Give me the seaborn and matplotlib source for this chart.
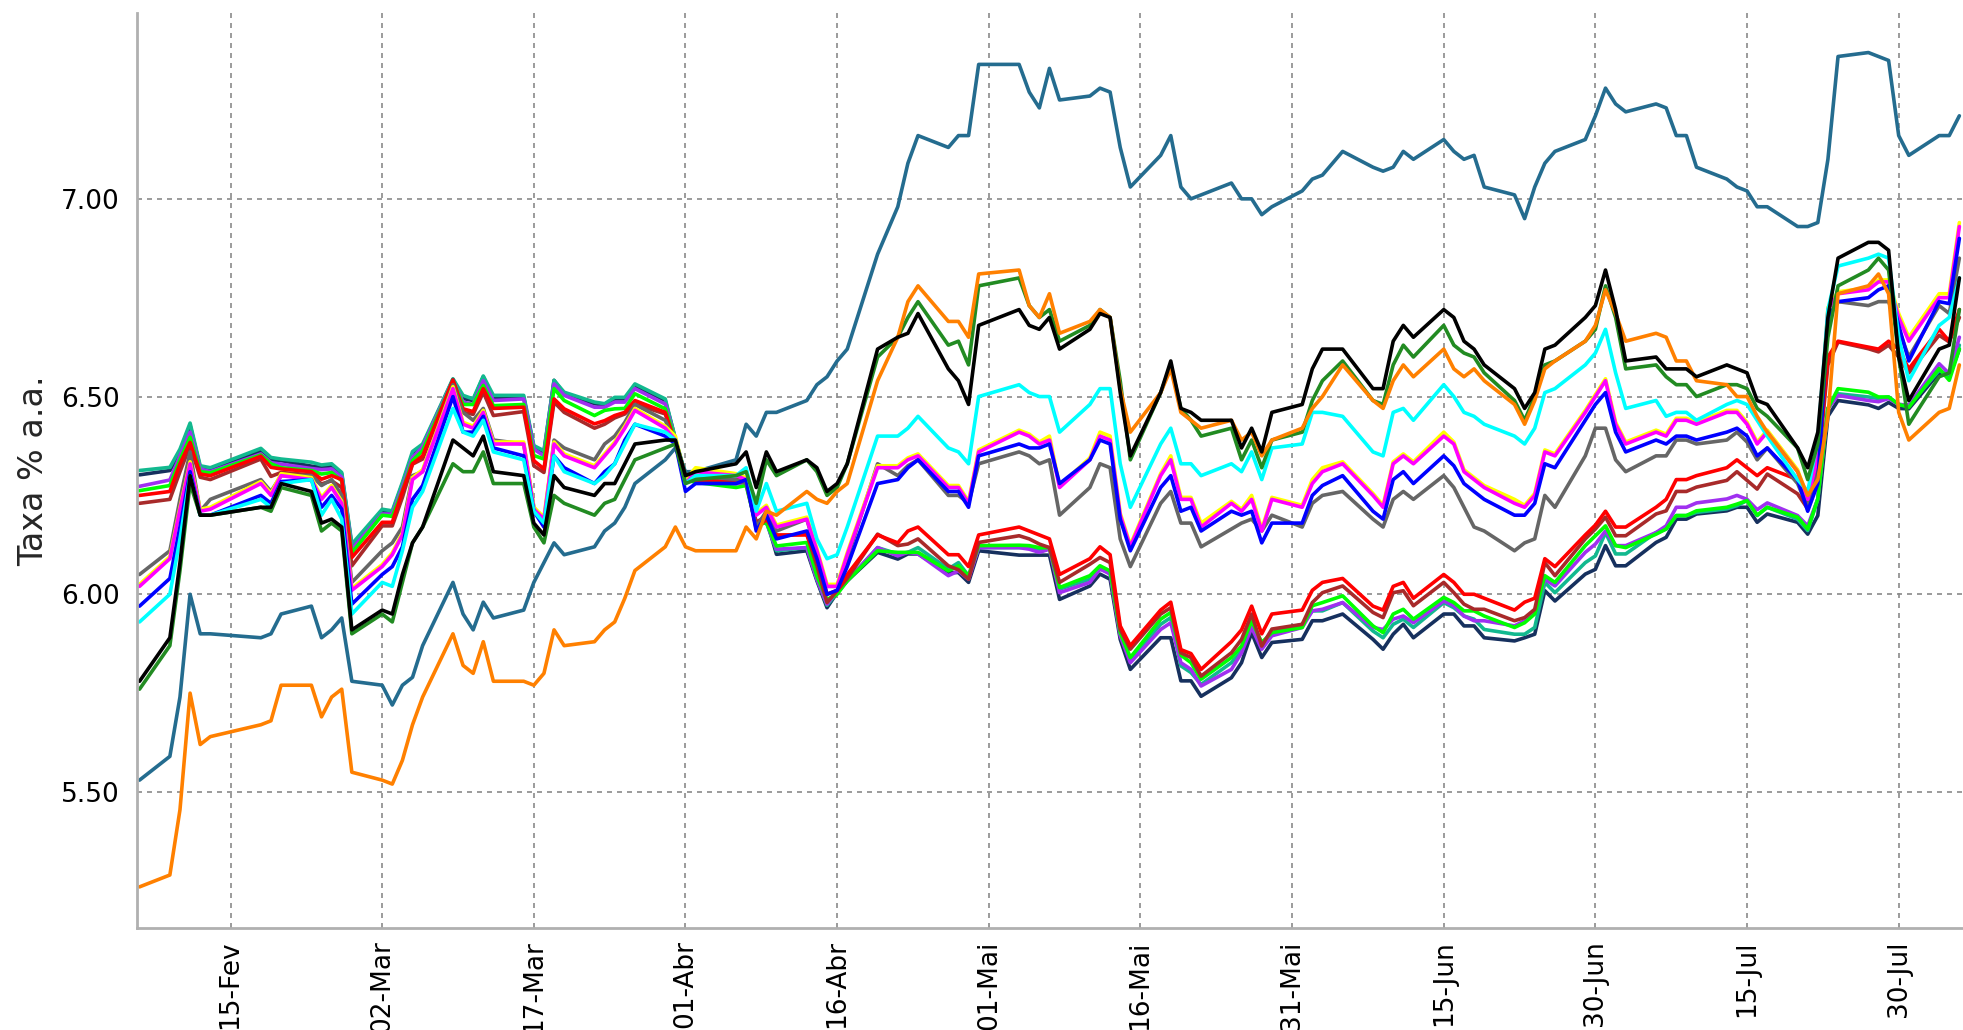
import numpy as np
import pandas as pd
import matplotlib
matplotlib.use("Agg")
import matplotlib.pyplot as plt
import seaborn as sns

# dias úteis de 06/02 a 05/08 (sem carnaval, sexta santa, tiradentes, 1º de maio, corpus christi)
feriados = ["2026-02-16", "2026-02-17", "2026-04-03", "2026-04-21", "2026-05-01", "2026-06-04"]
datas = pd.bdate_range("2026-02-06", "2026-08-05", freq="C", holidays=feriados)

# taxas, um bloco por mês (fev, mar, abr, mai, jun, jul, ago)
azul_aco = [
    5.53, 5.59, 5.74, 6.00, 5.90, 5.90, 5.89, 5.90, 5.95, 5.97, 5.89, 5.91, 5.94, 5.78,
    5.77, 5.72, 5.77, 5.79, 5.87, 6.03, 5.95, 5.91, 5.98, 5.94, 5.96, 6.03, 6.08, 6.13, 6.10, 6.12, 6.16, 6.18, 6.22, 6.28, 6.34, 6.37,
    6.31, 6.31, 6.34, 6.43, 6.40, 6.46, 6.46, 6.49, 6.53, 6.55, 6.59, 6.62, 6.86, 6.98, 7.09, 7.16, 7.13, 7.16, 7.16, 7.34,
    7.34, 7.27, 7.23, 7.33, 7.25, 7.26, 7.28, 7.27, 7.13, 7.03, 7.11, 7.16, 7.03, 7.00, 7.01, 7.04, 7.00, 7.00, 6.96, 6.98,
    7.02, 7.05, 7.06, 7.12, 7.08, 7.07, 7.08, 7.12, 7.10, 7.15, 7.12, 7.10, 7.11, 7.03, 7.01, 6.95, 7.03, 7.09, 7.12, 7.15, 7.21,
    7.28, 7.24, 7.22, 7.24, 7.23, 7.16, 7.16, 7.08, 7.05, 7.03, 7.02, 6.98, 6.98, 6.93, 6.93, 6.94, 7.10, 7.36, 7.37, 7.36, 7.35, 7.16, 7.11,
    7.16, 7.16, 7.21,
]
laranja = [
    5.26, 5.29, 5.455, 5.75, 5.62, 5.64, 5.67, 5.68, 5.77, 5.77, 5.69, 5.74, 5.76, 5.55,
    5.53, 5.52, 5.58, 5.67, 5.74, 5.90, 5.82, 5.80, 5.88, 5.78, 5.78, 5.77, 5.80, 5.91, 5.87, 5.88, 5.91, 5.93, 5.99, 6.06, 6.12, 6.17,
    6.12, 6.11, 6.11, 6.17, 6.14, 6.21, 6.20, 6.26, 6.24, 6.23, 6.26, 6.28, 6.54, 6.65, 6.74, 6.78, 6.69, 6.69, 6.65, 6.81,
    6.82, 6.73, 6.70, 6.76, 6.66, 6.69, 6.72, 6.70, 6.52, 6.41, 6.51, 6.57, 6.46, 6.44, 6.42, 6.44, 6.39, 6.41, 6.35, 6.39,
    6.42, 6.47, 6.50, 6.58, 6.49, 6.47, 6.54, 6.58, 6.55, 6.62, 6.57, 6.55, 6.57, 6.54, 6.48, 6.43, 6.49, 6.57, 6.59, 6.64, 6.68,
    6.77, 6.71, 6.64, 6.66, 6.65, 6.59, 6.59, 6.54, 6.53, 6.50, 6.50, 6.45, 6.41, 6.31, 6.25, 6.29, 6.45, 6.76, 6.78, 6.81, 6.76, 6.46, 6.39,
    6.46, 6.47, 6.58,
]
preto = [
    5.78, 5.89, 6.08, 6.30, 6.20, 6.20, 6.22, 6.22, 6.28, 6.26, 6.18, 6.19, 6.17, 5.91,
    5.96, 5.95, 6.05, 6.13, 6.17, 6.39, 6.37, 6.35, 6.40, 6.31, 6.30, 6.18, 6.15, 6.30, 6.27, 6.25, 6.28, 6.28, 6.33, 6.38, 6.39, 6.39,
    6.30, 6.31, 6.33, 6.36, 6.27, 6.36, 6.31, 6.34, 6.32, 6.26, 6.28, 6.33, 6.62, 6.65, 6.66, 6.71, 6.57, 6.54, 6.48, 6.68,
    6.72, 6.68, 6.67, 6.70, 6.62, 6.67, 6.71, 6.70, 6.51, 6.35, 6.51, 6.59, 6.47, 6.46, 6.44, 6.44, 6.37, 6.42, 6.36, 6.46,
    6.48, 6.57, 6.62, 6.62, 6.52, 6.52, 6.64, 6.68, 6.65, 6.72, 6.70, 6.64, 6.62, 6.58, 6.52, 6.47, 6.51, 6.62, 6.63, 6.70, 6.73,
    6.82, 6.72, 6.59, 6.60, 6.57, 6.57, 6.57, 6.55, 6.58, 6.57, 6.56, 6.49, 6.48, 6.37, 6.32, 6.41, 6.70, 6.85, 6.89, 6.89, 6.87, 6.60, 6.49,
    6.62, 6.63, 6.80,
]
verde = [
    5.76, 5.87, 6.06, 6.28, 6.20, 6.20, 6.22, 6.21, 6.27, 6.25, 6.16, 6.18, 6.16, 5.90,
    5.95, 5.93, 6.03, 6.13, 6.17, 6.33, 6.31, 6.31, 6.36, 6.28, 6.28, 6.17, 6.13, 6.25, 6.23, 6.20, 6.23, 6.24, 6.29, 6.34, 6.37, 6.38,
    6.28, 6.29, 6.30, 6.31, 6.23, 6.34, 6.30, 6.34, 6.31, 6.25, 6.27, 6.33, 6.60, 6.65, 6.70, 6.74, 6.63, 6.64, 6.58, 6.78,
    6.80, 6.73, 6.70, 6.72, 6.64, 6.68, 6.72, 6.70, 6.54, 6.34, 6.51, 6.58, 6.47, 6.44, 6.40, 6.42, 6.34, 6.39, 6.32, 6.39,
    6.41, 6.49, 6.54, 6.59, 6.49, 6.48, 6.58, 6.63, 6.60, 6.68, 6.63, 6.61, 6.60, 6.56, 6.49, 6.44, 6.50, 6.58, 6.59, 6.64, 6.67,
    6.78, 6.70, 6.57, 6.58, 6.55, 6.53, 6.53, 6.50, 6.53, 6.53, 6.52, 6.47, 6.45, 6.37, 6.29, 6.38, 6.65, 6.78, 6.82, 6.85, 6.82, 6.60, 6.43,
    6.55, 6.56, 6.72,
]
ciano = [
    5.93, 6.00, 6.14, 6.30, 6.20, 6.20, 6.24, 6.22, 6.28, 6.29, 6.20, 6.24, 6.19, 5.95,
    6.03, 6.02, 6.11, 6.22, 6.26, 6.47, 6.41, 6.40, 6.44, 6.36, 6.34, 6.21, 6.18, 6.35, 6.31, 6.28, 6.30, 6.33, 6.38, 6.43, 6.41, 6.39,
    6.28, 6.30, 6.30, 6.32, 6.21, 6.28, 6.21, 6.23, 6.14, 6.09, 6.10, 6.17, 6.40, 6.40, 6.42, 6.45, 6.37, 6.36, 6.33, 6.50,
    6.53, 6.51, 6.50, 6.50, 6.41, 6.48, 6.52, 6.52, 6.33, 6.22, 6.38, 6.42, 6.33, 6.33, 6.30, 6.33, 6.31, 6.36, 6.29, 6.37,
    6.38, 6.46, 6.46, 6.45, 6.36, 6.35, 6.46, 6.47, 6.44, 6.53, 6.50, 6.46, 6.45, 6.43, 6.40, 6.38, 6.42, 6.51, 6.52, 6.58, 6.61,
    6.67, 6.56, 6.47, 6.49, 6.45, 6.46, 6.46, 6.44, 6.48, 6.49, 6.48, 6.44, 6.40, 6.29, 6.26, 6.39, 6.72, 6.83, 6.85, 6.86, 6.85, 6.65, 6.54,
    6.68, 6.70, 6.80,
]
magenta = [
    6.02, 6.09, 6.215, 6.33, 6.21, 6.215, 6.28, 6.25, 6.30, 6.29, 6.24, 6.27, 6.23, 6.01,
    6.07, 6.10, 6.15, 6.29, 6.31, 6.52, 6.43, 6.42, 6.46, 6.38, 6.38, 6.215, 6.19, 6.38, 6.35, 6.32, 6.35, 6.38, 6.42, 6.465, 6.42, 6.39,
    6.28, 6.31, 6.30, 6.29, 6.20, 6.22, 6.17, 6.19, 6.11, 6.02, 6.02, 6.10, 6.32, 6.32, 6.34, 6.35, 6.27, 6.27, 6.23, 6.36,
    6.41, 6.40, 6.38, 6.39, 6.27, 6.34, 6.40, 6.39, 6.20, 6.12, 6.30, 6.34, 6.24, 6.24, 6.17, 6.23, 6.21, 6.24, 6.16, 6.24,
    6.22, 6.28, 6.31, 6.33, 6.25, 6.22, 6.33, 6.35, 6.33, 6.40, 6.38, 6.31, 6.29, 6.27, 6.23, 6.22, 6.25, 6.36, 6.35, 6.46, 6.50,
    6.54, 6.43, 6.38, 6.41, 6.40, 6.44, 6.44, 6.43, 6.46, 6.46, 6.43, 6.38, 6.41, 6.31, 6.24, 6.35, 6.72, 6.76, 6.77, 6.79, 6.79, 6.70, 6.64,
    6.75, 6.75, 6.93,
]
amarelo = [
    6.025, 6.095, 6.22, 6.335, 6.215, 6.22, 6.285, 6.255, 6.305, 6.295, 6.245, 6.275, 6.235, 6.015,
    6.075, 6.105, 6.155, 6.295, 6.315, 6.525, 6.435, 6.425, 6.465, 6.385, 6.385, 6.22, 6.195, 6.385, 6.355, 6.325, 6.355, 6.385, 6.425, 6.47, 6.425, 6.40,
    6.29, 6.32, 6.305, 6.295, 6.205, 6.225, 6.175, 6.195, 6.115, 6.025, 6.025, 6.105, 6.325, 6.325, 6.345, 6.355, 6.275, 6.275, 6.235, 6.365,
    6.415, 6.405, 6.385, 6.40, 6.275, 6.345, 6.41, 6.40, 6.205, 6.125, 6.305, 6.35, 6.245, 6.245, 6.18, 6.235, 6.215, 6.25, 6.165, 6.245,
    6.225, 6.29, 6.32, 6.335, 6.255, 6.225, 6.335, 6.355, 6.335, 6.41, 6.385, 6.315, 6.295, 6.275, 6.24, 6.225, 6.255, 6.365, 6.355, 6.465, 6.505,
    6.545, 6.435, 6.385, 6.415, 6.405, 6.445, 6.445, 6.435, 6.465, 6.465, 6.435, 6.385, 6.415, 6.315, 6.245, 6.36, 6.725, 6.765, 6.775, 6.795, 6.795, 6.71, 6.65,
    6.76, 6.76, 6.94,
]
azul = [
    5.97, 6.04, 6.17, 6.31, 6.20, 6.20, 6.25, 6.23, 6.285, 6.29, 6.22, 6.25, 6.215, 5.975,
    6.05, 6.07, 6.12, 6.24, 6.275, 6.50, 6.41, 6.41, 6.45, 6.37, 6.35, 6.21, 6.17, 6.35, 6.32, 6.28, 6.31, 6.33, 6.39, 6.43, 6.40, 6.38,
    6.26, 6.28, 6.28, 6.29, 6.16, 6.20, 6.14, 6.16, 6.09, 6.00, 6.01, 6.07, 6.28, 6.29, 6.32, 6.34, 6.26, 6.26, 6.22, 6.35,
    6.38, 6.37, 6.37, 6.38, 6.28, 6.34, 6.39, 6.38, 6.19, 6.11, 6.27, 6.30, 6.21, 6.22, 6.16, 6.21, 6.20, 6.21, 6.13, 6.18,
    6.18, 6.25, 6.275, 6.30, 6.21, 6.19, 6.29, 6.31, 6.28, 6.35, 6.325, 6.28, 6.26, 6.24, 6.20, 6.20, 6.23, 6.33, 6.32, 6.44, 6.48,
    6.51, 6.41, 6.36, 6.39, 6.38, 6.40, 6.40, 6.39, 6.41, 6.42, 6.40, 6.35, 6.37, 6.29, 6.21, 6.28, 6.70, 6.74, 6.75, 6.77, 6.78, 6.68, 6.59,
    6.74, 6.735, 6.90,
]
cinza = [
    6.05, 6.11, 6.24, 6.36, 6.21, 6.24, 6.29, 6.26, 6.30, 6.30, 6.275, 6.29, 6.25, 6.03,
    6.11, 6.13, 6.17, 6.30, 6.31, 6.53, 6.46, 6.44, 6.47, 6.39, 6.38, 6.22, 6.18, 6.39, 6.37, 6.34, 6.38, 6.40, 6.435, 6.48, 6.44, 6.38,
    6.29, 6.30, 6.29, 6.28, 6.17, 6.21, 6.16, 6.19, 6.10, 6.02, 6.02, 6.09, 6.33, 6.30, 6.325, 6.34, 6.25, 6.25, 6.23, 6.33,
    6.36, 6.35, 6.33, 6.34, 6.20, 6.27, 6.33, 6.32, 6.14, 6.07, 6.23, 6.26, 6.18, 6.18, 6.12, 6.165, 6.18, 6.19, 6.16, 6.20,
    6.17, 6.23, 6.25, 6.26, 6.19, 6.17, 6.24, 6.26, 6.24, 6.30, 6.27, 6.22, 6.17, 6.16, 6.11, 6.13, 6.14, 6.25, 6.22, 6.35, 6.42,
    6.42, 6.34, 6.31, 6.35, 6.35, 6.39, 6.39, 6.38, 6.39, 6.41, 6.385, 6.34, 6.37, 6.28, 6.22, 6.31, 6.70, 6.74, 6.73, 6.74, 6.74, 6.67, 6.60,
    6.73, 6.71, 6.85,
]
vermelho = [
    6.25, 6.26, 6.33, 6.384, 6.304, 6.30, 6.349, 6.321, 6.317, 6.31, 6.291, 6.30, 6.29, 6.093,
    6.182, 6.182, 6.26, 6.33, 6.35, 6.54, 6.469, 6.462, 6.52, 6.47, 6.473, 6.338, 6.317, 6.494, 6.469, 6.431, 6.439, 6.452, 6.46, 6.49, 6.46, 6.38,
    6.30, 6.29, 6.29, 6.29, 6.165, 6.19, 6.15, 6.15, 6.09, 6.00, 6.01, 6.05, 6.15, 6.13, 6.16, 6.17, 6.10, 6.10, 6.07, 6.15,
    6.17, 6.16, 6.15, 6.14, 6.05, 6.09, 6.12, 6.10, 5.92, 5.87, 5.96, 5.98, 5.86, 5.85, 5.81, 5.88, 5.91, 5.97, 5.90, 5.95,
    5.96, 6.01, 6.03, 6.04, 5.97, 5.96, 6.02, 6.03, 5.99, 6.05, 6.03, 6.00, 6.00, 5.99, 5.96, 5.98, 5.99, 6.09, 6.07, 6.15, 6.175,
    6.21, 6.17, 6.17, 6.22, 6.24, 6.29, 6.29, 6.30, 6.32, 6.34, 6.32, 6.30, 6.32, 6.29, 6.23, 6.325, 6.60, 6.64, 6.625, 6.62, 6.64, 6.62, 6.57,
    6.67, 6.64, 6.72,
]
marrom = [
    6.23, 6.24, 6.31, 6.376, 6.296, 6.29, 6.342, 6.298, 6.308, 6.302, 6.279, 6.287, 6.27, 6.072,
    6.173, 6.173, 6.245, 6.329, 6.342, 6.543, 6.46, 6.455, 6.511, 6.452, 6.462, 6.325, 6.308, 6.486, 6.46, 6.42, 6.43, 6.446, 6.456, 6.481, 6.456, 6.38,
    6.296, 6.287, 6.285, 6.283, 6.182, 6.198, 6.148, 6.152, 6.072, 5.979, 6.009, 6.04, 6.152, 6.123, 6.127, 6.14, 6.072, 6.062, 6.038, 6.131,
    6.148, 6.14, 6.127, 6.118, 6.03, 6.076, 6.093, 6.08, 5.911, 5.861, 5.95, 5.966, 5.852, 5.84, 5.793, 5.852, 5.886, 5.95, 5.869, 5.912,
    5.924, 5.979, 6.004, 6.021, 5.954, 5.941, 6.004, 6.009, 5.971, 6.03, 6.004, 5.975, 5.962, 5.962, 5.933, 5.941, 5.962, 6.08, 6.047, 6.14, 6.165,
    6.195, 6.148, 6.148, 6.203, 6.211, 6.26, 6.26, 6.271, 6.288, 6.31, 6.288, 6.266, 6.304, 6.254, 6.216, 6.31, 6.58, 6.638, 6.621, 6.613, 6.63, 6.60, 6.56,
    6.655, 6.638, 6.70,
]
lima = [
    6.262, 6.275, 6.34, 6.397, 6.31, 6.307, 6.352, 6.33, 6.32, 6.313, 6.304, 6.308, 6.287, 6.105,
    6.20, 6.197, 6.262, 6.338, 6.363, 6.54, 6.48, 6.48, 6.528, 6.477, 6.48, 6.351, 6.342, 6.52, 6.49, 6.452, 6.465, 6.469, 6.47, 6.507, 6.469, 6.39,
    6.29, 6.283, 6.27, 6.275, 6.173, 6.182, 6.122, 6.131, 6.046, 5.987, 6.0, 6.034, 6.11, 6.106, 6.106, 6.106, 6.059, 6.072, 6.047, 6.123,
    6.124, 6.123, 6.118, 6.118, 6.017, 6.047, 6.072, 6.059, 5.903, 5.84, 5.937, 5.954, 5.846, 5.827, 5.785, 5.84, 5.869, 5.933, 5.878, 5.903,
    5.916, 5.971, 5.979, 5.996, 5.92, 5.903, 5.95, 5.962, 5.937, 5.992, 5.979, 5.958, 5.958, 5.945, 5.916, 5.928, 5.95, 6.047, 6.03, 6.123, 6.148,
    6.173, 6.123, 6.118, 6.152, 6.165, 6.199, 6.199, 6.211, 6.22, 6.228, 6.237, 6.20, 6.22, 6.195, 6.165, 6.241, 6.47, 6.52, 6.511, 6.499, 6.499, 6.48, 6.473,
    6.571, 6.541, 6.62,
]
jade = [
    6.313, 6.321, 6.367, 6.433, 6.325, 6.32, 6.369, 6.346, 6.342, 6.334, 6.327, 6.33, 6.308, 6.127,
    6.215, 6.211, 6.283, 6.361, 6.38, 6.545, 6.503, 6.494, 6.552, 6.503, 6.503, 6.376, 6.363, 6.541, 6.511, 6.486, 6.482, 6.498, 6.498, 6.532, 6.494, 6.393,
    6.304, 6.29, 6.283, 6.283, 6.177, 6.182, 6.11, 6.118, 6.038, 5.972, 6.004, 6.034, 6.118, 6.102, 6.106, 6.118, 6.064, 6.08, 6.047, 6.118,
    6.118, 6.118, 6.114, 6.118, 6.013, 6.038, 6.064, 6.055, 5.90, 5.835, 5.924, 5.941, 5.819, 5.802, 5.772, 5.827, 5.857, 5.924, 5.869, 5.903,
    5.924, 5.958, 5.958, 5.979, 5.907, 5.89, 5.924, 5.937, 5.916, 5.979, 5.966, 5.945, 5.937, 5.911, 5.899, 5.899, 5.916, 6.03, 6.004, 6.08, 6.097,
    6.156, 6.102, 6.102, 6.156, 6.165, 6.199, 6.199, 6.207, 6.216, 6.224, 6.237, 6.199, 6.22, 6.19, 6.161, 6.241, 6.47, 6.507, 6.499, 6.495, 6.499, 6.48, 6.478,
    6.566, 6.554, 6.63,
]
roxo = [
    6.273, 6.289, 6.35, 6.41, 6.317, 6.31, 6.355, 6.333, 6.329, 6.318, 6.315, 6.317, 6.296, 6.114,
    6.203, 6.203, 6.27, 6.346, 6.372, 6.541, 6.486, 6.48, 6.54, 6.49, 6.494, 6.367, 6.35, 6.532, 6.503, 6.473, 6.473, 6.486, 6.486, 6.52, 6.481, 6.389,
    6.296, 6.283, 6.279, 6.283, 6.182, 6.182, 6.114, 6.118, 6.038, 5.975, 6.009, 6.034, 6.118, 6.097, 6.106, 6.102, 6.047, 6.059, 6.038, 6.118,
    6.118, 6.114, 6.106, 6.114, 6.004, 6.03, 6.064, 6.051, 5.895, 5.827, 5.911, 5.928, 5.827, 5.81, 5.768, 5.81, 5.852, 5.916, 5.861, 5.895,
    5.916, 5.958, 5.962, 5.979, 5.916, 5.911, 5.937, 5.945, 5.928, 5.983, 5.971, 5.945, 5.933, 5.933, 5.92, 5.933, 5.958, 6.038, 6.021, 6.106, 6.127,
    6.16, 6.123, 6.123, 6.156, 6.173, 6.22, 6.22, 6.231, 6.241, 6.25, 6.24, 6.214, 6.231, 6.199, 6.173, 6.241, 6.47, 6.503, 6.49, 6.487, 6.495, 6.48, 6.478,
    6.583, 6.558, 6.65,
]
marinho = [
    6.302, 6.313, 6.36, 6.427, 6.321, 6.315, 6.363, 6.338, 6.338, 6.324, 6.321, 6.325, 6.304, 6.122,
    6.207, 6.207, 6.279, 6.355, 6.376, 6.543, 6.495, 6.49, 6.55, 6.494, 6.498, 6.372, 6.359, 6.541, 6.507, 6.482, 6.478, 6.494, 6.494, 6.528, 6.49, 6.393,
    6.30, 6.283, 6.283, 6.283, 6.173, 6.19, 6.101, 6.11, 6.034, 5.966, 6.004, 6.034, 6.106, 6.089, 6.102, 6.102, 6.055, 6.055, 6.03, 6.11,
    6.099, 6.099, 6.099, 6.099, 5.987, 6.021, 6.051, 6.038, 5.886, 5.81, 5.89, 5.89, 5.781, 5.781, 5.742, 5.789, 5.827, 5.903, 5.84, 5.878,
    5.886, 5.933, 5.933, 5.95, 5.886, 5.861, 5.899, 5.924, 5.89, 5.95, 5.95, 5.92, 5.92, 5.89, 5.882, 5.89, 5.899, 6.009, 5.983, 6.051, 6.063,
    6.123, 6.072, 6.072, 6.131, 6.144, 6.19, 6.19, 6.203, 6.211, 6.22, 6.22, 6.182, 6.203, 6.182, 6.152, 6.199, 6.45, 6.49, 6.479, 6.47, 6.485, 6.47, 6.469,
    6.56, 6.55, 6.62,
]

series = {
    "azul_aco": azul_aco, "marinho": marinho, "jade": jade, "roxo": roxo, "lima": lima,
    "marrom": marrom, "vermelho": vermelho, "cinza": cinza, "amarelo": amarelo,
    "magenta": magenta, "azul": azul, "ciano": ciano, "verde": verde,
    "laranja": laranja, "preto": preto,
}
cores = {
    "azul_aco": "#246c8f", "marinho": "#16305e", "jade": "#12b98f", "roxo": "#a030f0",
    "lima": "#00ff00", "marrom": "#a82a2a", "vermelho": "#ff0000", "cinza": "#666666",
    "amarelo": "#ffff00", "magenta": "#ff00ff", "azul": "#0000ff", "ciano": "#00ffff",
    "verde": "#228b22", "laranja": "#ff8000", "preto": "#000000",
}

frames = []
for nome, valores in series.items():
    assert len(valores) == len(datas), (nome, len(valores), len(datas))
    frames.append(pd.DataFrame({"data": datas, "taxa": valores, "serie": nome}))
df = pd.concat(frames, ignore_index=True)

ref = pd.Timestamp("2026-02-15")
ticks_x = [ref + pd.Timedelta(days=15 * k) for k in range(12)]
rotulos_x = ["15-Fev", "02-Mar", "17-Mar", "01-Abr", "16-Abr", "01-Mai",
             "16-Mai", "31-Mai", "15-Jun", "30-Jun", "15-Jul", "30-Jul"]
ticks_y = [5.50, 6.00, 6.50, 7.00]

sns.set_style("white")
plt.rcParams["font.family"] = ["DejaVu Sans"]

fig = plt.figure(figsize=(19.63, 10.30), dpi=100)
ax = fig.add_axes([136.5 / 1963, 102 / 1030, 1 - 136.5 / 1963, (928 - 13) / 1030])

sns.lineplot(data=df, x="data", y="taxa", hue="serie", hue_order=list(series.keys()),
             palette=cores, linewidth=2.6, legend=False, estimator=None, ax=ax)

ax.set_xlim(ref - pd.Timedelta(days=9.3), ref + pd.Timedelta(days=171.36))
ax.set_ylim(5.156, 7.47)
ax.set_xticks(ticks_x)
ax.set_xticklabels(rotulos_x, rotation=90)
ax.set_yticks(ticks_y)
ax.set_yticklabels([f"{v:.2f}" for v in ticks_y])

ax.grid(True, linestyle=(0, (3, 3)), color="#8a8a8a", linewidth=1.2)
ax.set_axisbelow(True)
for lado in ["top", "right"]:
    ax.spines[lado].set_visible(False)
for lado in ["left", "bottom"]:
    ax.spines[lado].set_color("#b0b0b0")
    ax.spines[lado].set_linewidth(2.0)

ax.tick_params(axis="both", colors="#9a9a9a", labelcolor="black", labelsize=19,
               length=4, width=1.5)
ax.tick_params(axis="y", pad=8)
ax.tick_params(axis="x", pad=5)

ax.set_xlabel("")
ax.set_ylabel("Taxa % a.a.", fontsize=24)
ax.yaxis.set_label_coords(-0.0474, 0.5)

fig.savefig("out.png", dpi=100)
